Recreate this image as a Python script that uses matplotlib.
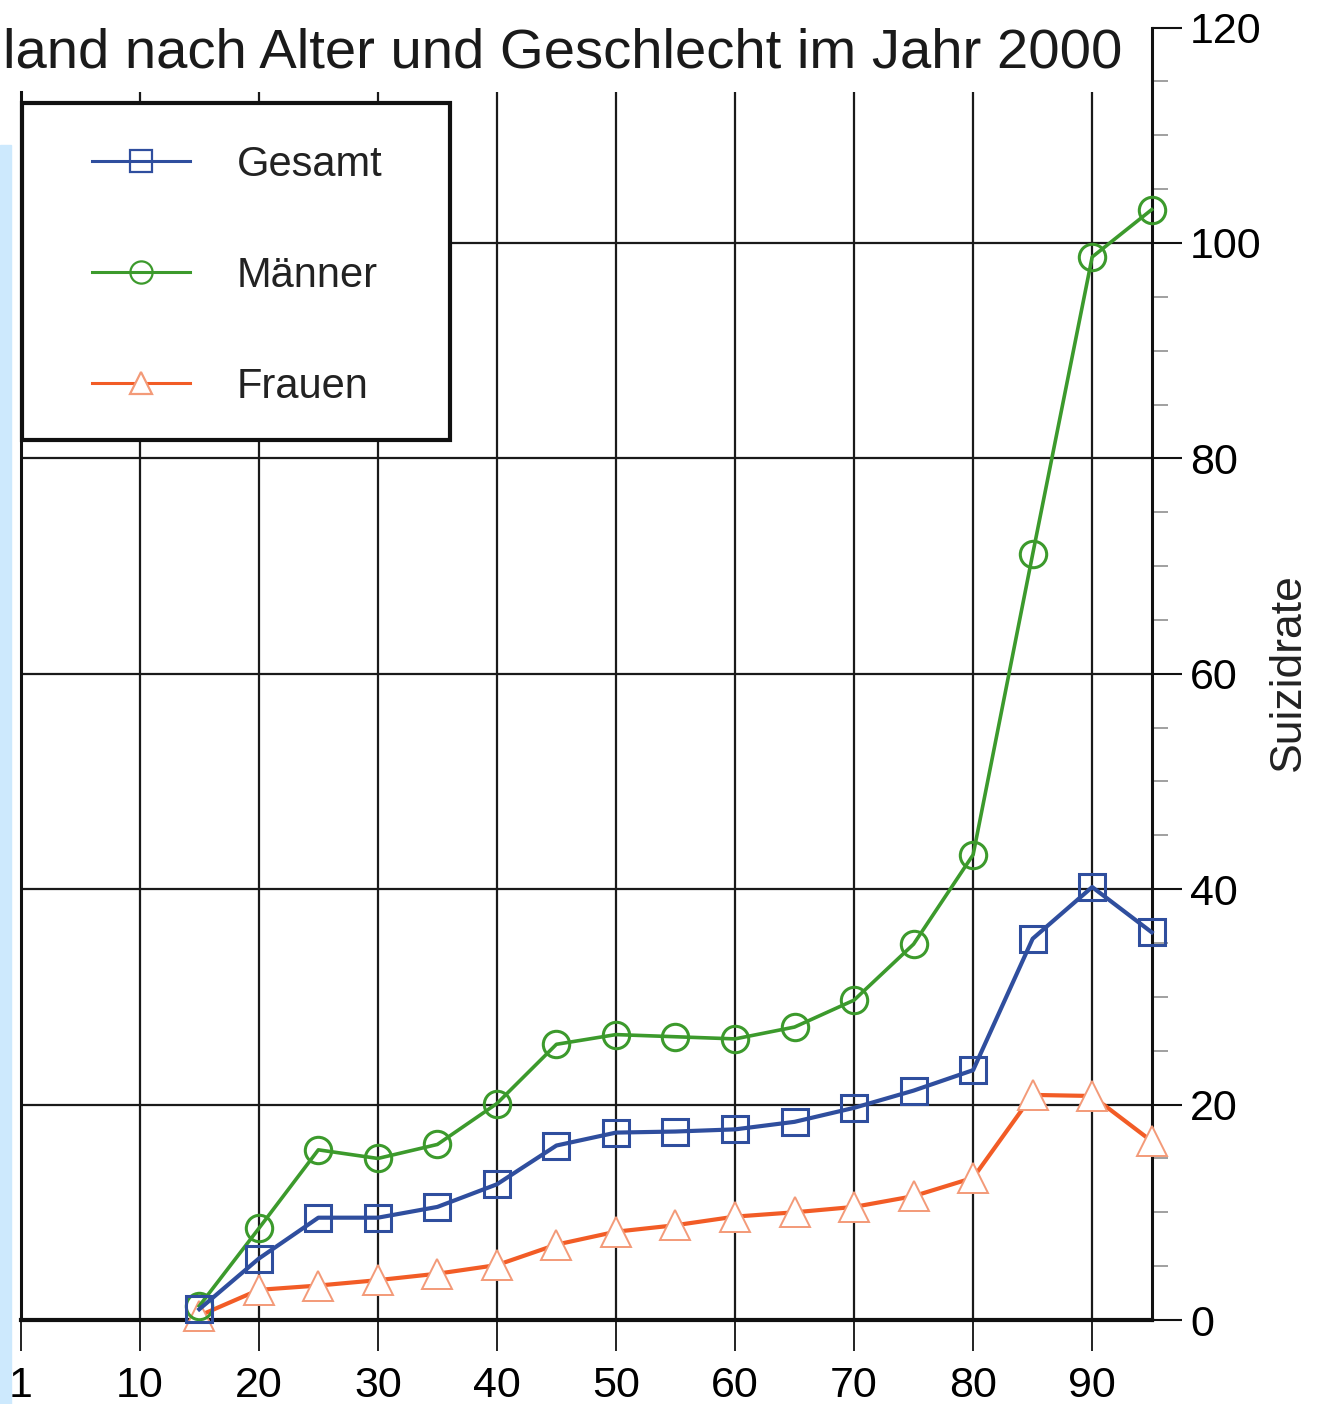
import matplotlib
matplotlib.use("Agg")
import matplotlib.pyplot as plt
from matplotlib.patches import Rectangle
from matplotlib.ticker import MultipleLocator

plt.rcParams['font.family'] = ['Liberation Sans', 'DejaVu Sans']

# Daten (Suizidrate je Altersgruppe)
alter = [15, 20, 25, 30, 35, 40, 45, 50, 55, 60, 65, 70, 75, 80, 85, 90, 95]
gesamt = [1.0, 5.7, 9.5, 9.5, 10.5, 12.6, 16.2, 17.4, 17.5, 17.7, 18.4, 19.7,
          21.3, 23.2, 35.4, 40.2, 36.0]
maenner = [1.3, 8.5, 15.8, 15.0, 16.3, 20.1, 25.6, 26.5, 26.3, 26.1, 27.2, 29.7,
           34.9, 43.2, 71.1, 98.7, 103.1]
frauen = [0.4, 2.8, 3.2, 3.7, 4.3, 5.1, 7.0, 8.2, 8.8, 9.6, 10.0, 10.5,
          11.5, 13.2, 20.9, 20.8, 16.6]

x_ticks = [0, 10, 20, 30, 40, 50, 60, 70, 80, 90]
x_labels = ['1', '10', '20', '30', '40', '50', '60', '70', '80', '90']
y_ticks = [0, 20, 40, 60, 80, 100, 120]

titel = "land nach Alter und Geschlecht im Jahr 2000"

W, H = 1320, 1404
fig = plt.figure(figsize=(W / 100, H / 100), dpi=100)
ax = fig.add_axes([20.7 / W, (H - 1320) / H, 1131 / W, (1320 - 27.6) / H])

# hellblauer Rand links
fig.patches.append(Rectangle((0, 0), 11 / W, (H - 145) / H, transform=fig.transFigure,
                             color='#cde9fd', zorder=0))

# Gitter (senkrechte Linien enden unter dem Titel)
ax.vlines(x_ticks[1:], 0, 114, color='#1a1a1a', lw=1.6, zorder=1)
ax.hlines(y_ticks[1:-1], 0, 1, transform=ax.get_yaxis_transform(),
          color='#1a1a1a', lw=1.6, zorder=1)

# Linien
l_f, = ax.plot(alter, frauen, color='#f25c26', lw=3.0, marker='^', ms=21,
               mfc='white', mec='#f39a78', mew=1.4, label='Frauen', zorder=3,
               clip_on=False)
l_m, = ax.plot(alter, maenner, color='#3c9a2c', lw=2.6, marker='o', ms=19,
               mfc='none', mec='#3c9a2c', mew=2.2, label='Männer', zorder=4,
               clip_on=False)
l_g, = ax.plot(alter, gesamt, color='#2f4e9e', lw=3.0, marker='s', ms=19,
               mfc='none', mec='#2f4e9e', mew=2.2, label='Gesamt', zorder=5,
               clip_on=False)

ax.set_xlim(0, 95)
ax.set_ylim(0, 120)

ax.set_xticks(x_ticks)
ax.set_xticklabels(x_labels)
ax.set_yticks(y_ticks)
ax.yaxis.set_minor_locator(MultipleLocator(5))
ax.yaxis.tick_right()
ax.yaxis.set_label_position('right')

ax.tick_params(axis='x', direction='out', length=22, width=1.4, pad=11,
               labelsize=31, color='#222222')
ax.tick_params(axis='y', which='major', direction='out', length=21.5, width=1.5,
               pad=6, labelsize=31, color='#111111')
ax.tick_params(axis='y', which='minor', direction='out', length=11.5, width=1.4,
               color='#a0a0a0')

ax.spines['top'].set_visible(False)
ax.spines['bottom'].set_linewidth(3.0)
ax.spines['left'].set_linewidth(2.2)
ax.spines['left'].set_bounds(0, 114)
ax.spines['right'].set_linewidth(2.2)
for s in ax.spines.values():
    s.set_color('#111111')

ax.set_ylabel('Suizidrate', fontsize=32, color='#222222')
ax.yaxis.set_label_coords(1.103, 0.501)

# Legendenrahmen
rahmen = Rectangle((22 / W, 1 - 440 / H), 428 / W, 337 / H, transform=fig.transFigure,
                   facecolor='white', edgecolor='#111111', lw=3.0, zorder=6,
                   clip_on=False)
ax.add_patch(rahmen)

leg = ax.legend(handles=[l_g, l_m, l_f], loc='upper left',
                bbox_to_anchor=(92 / W, 1 - 145 / H), bbox_transform=fig.transFigure,
                borderaxespad=0, borderpad=0, fontsize=30, handlelength=2.35,
                handletextpad=1.13, labelspacing=1.7, frameon=False)
leg.set_zorder(7)
for h in leg.legend_handles:
    h.set_markersize(16)
    h.set_linewidth(2.2)
    h.set_markeredgewidth(1.6)
for t in leg.get_texts():
    t.set_color('#222222')

fig.text(3 / W, 1 - 68 / H, titel, fontsize=40.5, va='baseline', ha='left',
         color='#1a1a1a')

fig.savefig('out.png', dpi=100)
